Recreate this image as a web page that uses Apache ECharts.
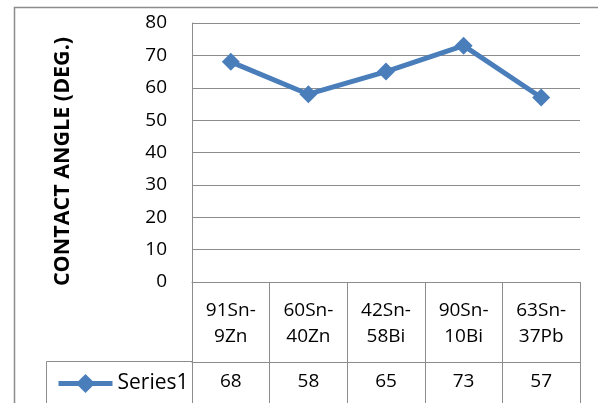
<!DOCTYPE html>
<html><head><meta charset="utf-8">
<script src="https://cdn.jsdelivr.net/npm/echarts@6/dist/echarts.min.js"></script>
<style>html,body{margin:0;padding:0;background:#fff}#c{width:598px;height:403px}</style>
</head><body><div id="c"></div>
<script>
var categories = ['91Sn-\n9Zn', '60Sn-\n40Zn', '42Sn-\n58Bi', '90Sn-\n10Bi', '63Sn-\n37Pb'];
var values = [68, 58, 65, 73, 57];
var seriesName = 'Series1';
var yTitle = 'CONTACT ANGLE (DEG.)';
var yMin = 0, yMax = 80, yStep = 10;

var font = 'Open Sans';
var gray = '#8c8c8c';
var chart = echarts.init(document.getElementById('c'));
chart.setOption({
  animation: false,
  textStyle: {fontFamily: font},
  grid: {left: 192, right: 18, top: 23, bottom: 121},
  legend: {
    data: [seriesName], left: 51, top: 368, itemWidth: 54, itemHeight: 24, itemGap: 3,
    lineStyle: {width: 5},
    textStyle: {fontSize: 21, color: '#000', fontFamily: font}
  },
  xAxis: [{
    type: 'category', data: categories, boundaryGap: true,
    axisLine: {show: true, lineStyle: {color: gray, width: 1}},
    axisTick: {show: true, length: 130, lineStyle: {color: gray, width: 1}},
    axisLabel: {interval: 0, margin: 16, fontSize: 19, lineHeight: 26, color: '#000'}
  }, {
    type: 'category', data: categories, position: 'bottom', offset: 80, boundaryGap: true,
    axisLine: {show: true, lineStyle: {color: gray, width: 1}},
    axisTick: {show: false},
    axisLabel: {interval: 0, margin: 10, fontSize: 19, color: '#000',
      formatter: function (v, i) { return String(values[i]); }}
  }],
  yAxis: {
    type: 'value', min: yMin, max: yMax, interval: yStep,
    name: yTitle, nameLocation: 'middle', nameGap: 118,
    nameTextStyle: {fontSize: 21.5, fontWeight: 'bold', color: '#000', padding: [0, 18, 0, 0]},
    axisLine: {show: true, lineStyle: {color: gray, width: 1}},
    axisTick: {show: false},
    axisLabel: {fontSize: 19, color: '#000', margin: 25},
    splitLine: {show: true, lineStyle: {color: gray, width: 1}}
  },
  series: [{
    name: seriesName, type: 'line', data: values, xAxisIndex: 0,
    symbol: 'diamond', symbolSize: 18,
    lineStyle: {color: '#4a7ebb', width: 5},
    itemStyle: {color: '#4a7ebb'}
  }],
  graphic: [
    {type: 'rect', shape: {x: 14.5, y: 7.5, width: 700, height: 500}, style: {fill: 'none', stroke: gray, lineWidth: 1.5}, silent: true},
    {type: 'line', shape: {x1: 46.5, y1: 361.5, x2: 192, y2: 361.5}, style: {stroke: gray, lineWidth: 1}},
    {type: 'line', shape: {x1: 46.5, y1: 361.5, x2: 46.5, y2: 410}, style: {stroke: gray, lineWidth: 1}}
  ]
});
</script></body></html>
